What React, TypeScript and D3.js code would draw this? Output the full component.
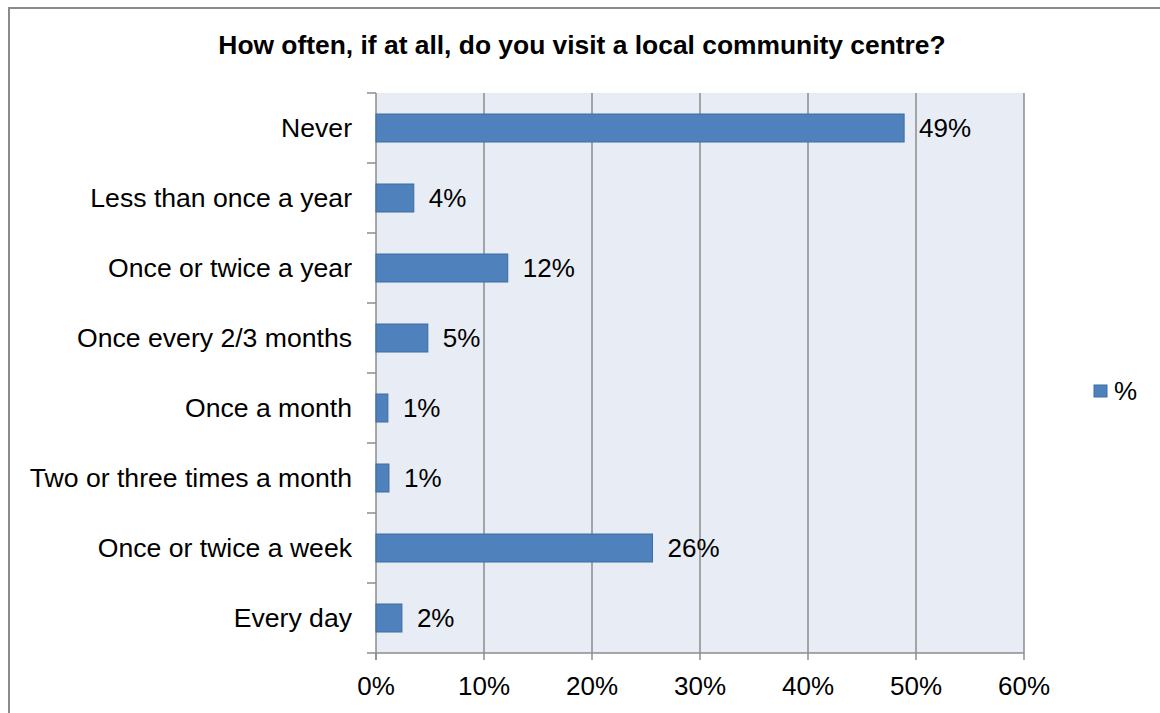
import React from "react";
import * as d3 from "d3";

const title = "How often, if at all, do you visit a local community centre?";
const categories = [
  "Never",
  "Less than once a year",
  "Once or twice a year",
  "Once every 2/3 months",
  "Once a month",
  "Two or three times a month",
  "Once or twice a week",
  "Every day",
];
const values = [48.9, 3.5, 12.2, 4.8, 1.1, 1.2, 25.6, 2.4];
const valueLabels = ["49%", "4%", "12%", "5%", "1%", "1%", "26%", "2%"];
const xTicks = [0, 10, 20, 30, 40, 50, 60];
const seriesName = "%";

const W = 1160;
const H = 713;
const plot = { left: 376, right: 1024, top: 93, bottom: 653 };
const FONT = "'Liberation Sans', Arial, sans-serif";
const FS = 26;
const FS_CAT = 26.6;
const FS_TITLE = 26.4;

export default function App() {
  const x = d3.scaleLinear().domain([0, 60]).range([plot.left, plot.right]);
  const y = d3
    .scaleBand<string>()
    .domain(categories)
    .range([plot.top, plot.bottom])
    .paddingInner(0.6)
    .paddingOuter(0.3);
  const band = d3
    .scaleBand<string>()
    .domain(categories)
    .range([plot.top, plot.bottom]);
  const boundaries = d3.range(categories.length + 1).map(
    (i) => plot.top + i * band.step()
  );

  return (
    <div style={{ position: "absolute", left: 0, top: 0 }}>
      <svg width={W} height={H} style={{ display: "block", background: "#fff" }}>
        <rect x={0} y={0} width={W} height={H} fill="#fff" />
        <rect x={9} y={8} width={1300} height={900} fill="none" stroke="#8a8a8a" strokeWidth={2} />
        <text
          x={582}
          y={54}
          textAnchor="middle"
          fontFamily={FONT}
          fontWeight="bold"
          fontSize={FS_TITLE}
          fill="#000"
        >
          {title}
        </text>
        <rect
          x={plot.left}
          y={plot.top}
          width={plot.right - plot.left}
          height={plot.bottom - plot.top}
          fill="#e8ecf4"
        />
        {xTicks.slice(1).map((t) => (
          <line
            key={"g" + t}
            x1={x(t)}
            x2={x(t)}
            y1={plot.top}
            y2={plot.bottom}
            stroke="#8c8c8c"
            strokeWidth={1.5}
          />
        ))}
        <line x1={plot.left} x2={plot.left} y1={plot.top} y2={plot.bottom + 7} stroke="#8c8c8c" strokeWidth={1.5} />
        <line x1={plot.left} x2={plot.right} y1={plot.bottom} y2={plot.bottom} stroke="#8c8c8c" strokeWidth={1.5} />
        {xTicks.map((t) => (
          <line key={"t" + t} x1={x(t)} x2={x(t)} y1={plot.bottom} y2={plot.bottom + 7} stroke="#8c8c8c" strokeWidth={1.5} />
        ))}
        {boundaries.map((b, i) => (
          <line key={"c" + i} x1={plot.left - 9} x2={plot.left} y1={b} y2={b} stroke="#8c8c8c" strokeWidth={1.5} />
        ))}
        {xTicks.map((t) => (
          <text
            key={"l" + t}
            x={x(t)}
            y={695}
            textAnchor="middle"
            fontFamily={FONT}
            fontSize={FS}
            fill="#000"
          >
            {t + "%"}
          </text>
        ))}
        {categories.map((c, i) => {
          const cy = (band(c) as number) + band.bandwidth() / 2;
          return (
            <g key={c}>
              <rect
                x={x(0)}
                y={y(c) as number}
                width={x(values[i]) - x(0)}
                height={y.bandwidth()}
                fill="#4f81bd"
                stroke="#3d6ca3"
                strokeWidth={1}
              />
              <text
                x={352}
                y={cy}
                dy="0.35em"
                textAnchor="end"
                fontFamily={FONT}
                fontSize={FS_CAT}
                fill="#000"
              >
                {c}
              </text>
              <text
                x={x(values[i]) + 15}
                y={cy}
                dy="0.35em"
                fontFamily={FONT}
                fontSize={FS}
                fill="#000"
              >
                {valueLabels[i]}
              </text>
            </g>
          );
        })}
        <rect x={1094} y={385} width={13} height={12} fill="#4f81bd" stroke="#3d6ca3" strokeWidth={1} />
        <text x={1114} y={391} dy="0.35em" fontFamily={FONT} fontSize={FS} fill="#000">
          {seriesName}
        </text>
      </svg>
    </div>
  );
}
